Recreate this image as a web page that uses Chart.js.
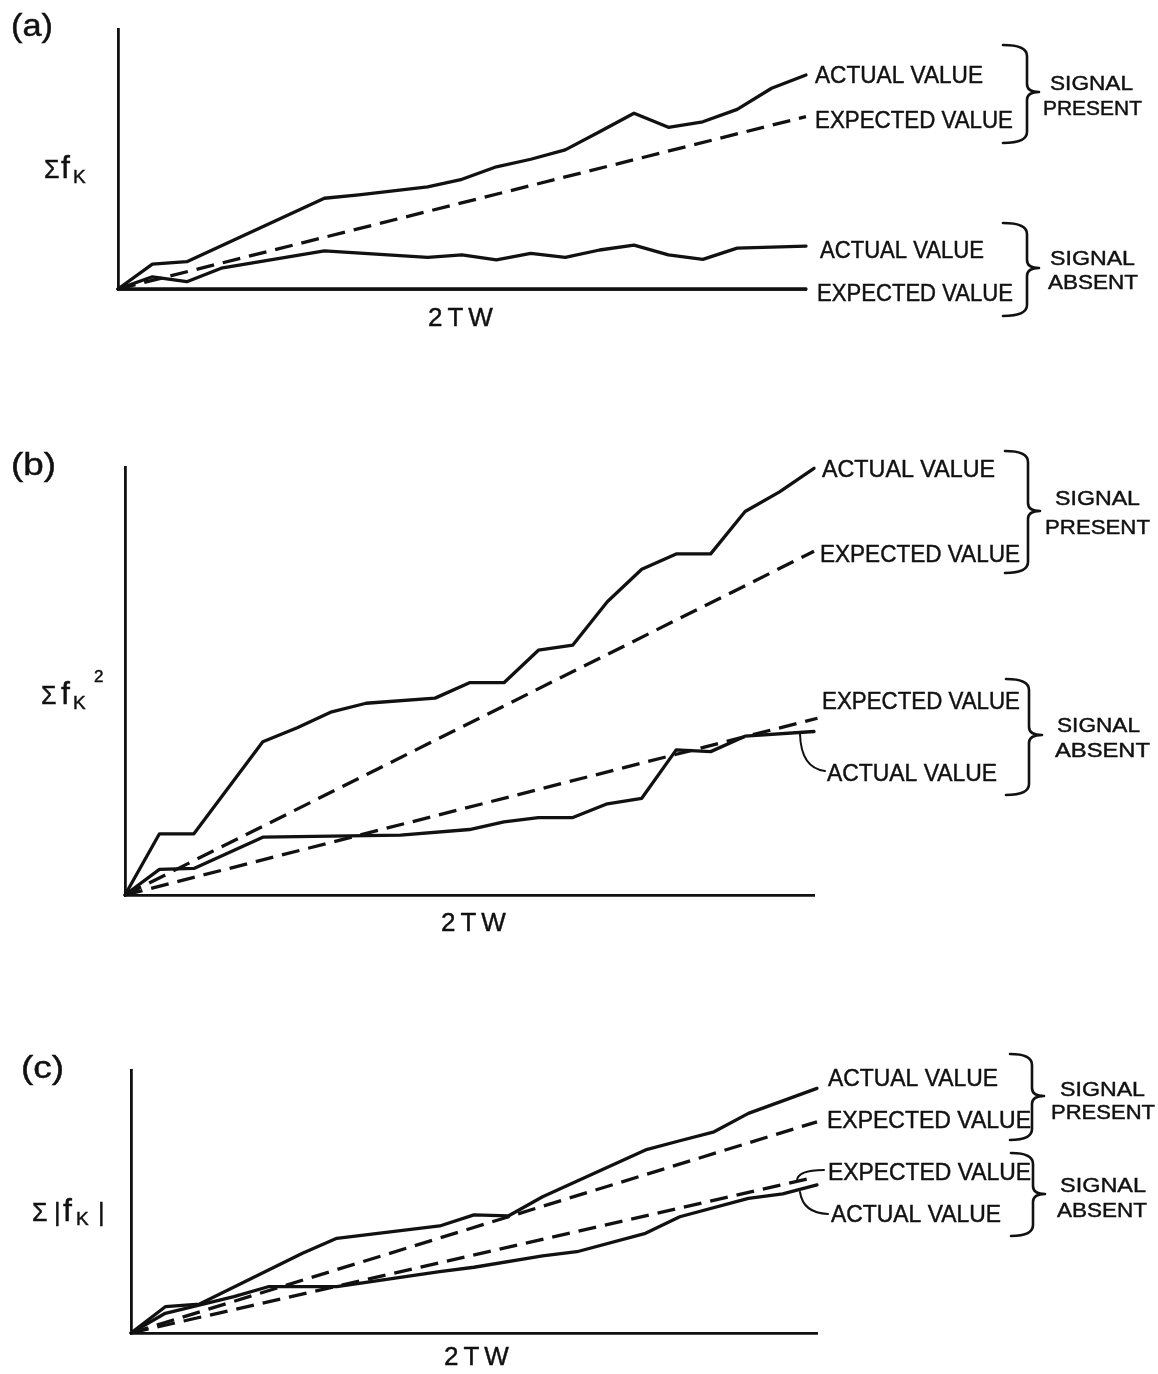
<!DOCTYPE html>
<html><head><meta charset="utf-8">
<script src="https://cdn.jsdelivr.net/npm/chart.js@4.4.1/dist/chart.umd.min.js"></script>
<style>
html,body{margin:0;padding:0;background:#fff;}
#wrap{position:relative;width:1158px;height:1374px;overflow:hidden;background:#fff;}
canvas{position:absolute;left:0;}
</style></head><body>
<div id="wrap">
<canvas id="ca" width="1158" height="345" style="top:0px;width:1158px;height:345px"></canvas>
<canvas id="cb" width="1158" height="605" style="top:345px;width:1158px;height:605px"></canvas>
<canvas id="cc" width="1158" height="424" style="top:950px;width:1158px;height:424px"></canvas>
</div>
<script>
// ---------- DATA (x = sample index along 2TW, y = relative sum, 0..100) ----------
// Panel (a)  Σ f_K
const aPresentActualX   = [0, 1, 2, 6, 7, 9, 10, 11, 12, 13, 14, 15, 16, 17, 18, 19, 20];
const aPresentActualY   = [0, 9.6, 10.5, 34.9, 36.2, 39.3, 42.2, 47.0, 49.9, 53.5, 60.5, 67.6, 62.2, 64.3, 69.1, 77.2, 82.3];
const aPresentExpectedX = [0, 20];
const aPresentExpectedY = [0, 66.3];
const aAbsentActualX    = [0, 1, 2, 3, 6, 9, 10, 11, 12, 13, 14, 15, 16, 17, 18, 20];
const aAbsentActualY    = [0, 4.7, 2.8, 8.0, 14.7, 12.2, 13.1, 11.2, 13.7, 12.2, 15.0, 16.9, 13.1, 11.4, 15.7, 16.5];
const aAbsentExpectedX  = [0, 20];
const aAbsentExpectedY  = [0, 0];

// Panel (b)  Σ f_K²
const bPresentActualX   = [0, 1, 2, 4, 5, 6, 7, 9, 10, 11, 12, 13, 14, 15, 16, 17, 18, 19, 20];
const bPresentActualY   = [0, 14.3, 14.3, 35.8, 39.1, 42.8, 44.8, 46.0, 49.6, 49.6, 57.2, 58.4, 68.5, 76.1, 79.7, 79.7, 89.6, 94.2, 99.7];
const bPresentExpectedX = [0, 20];
const bPresentExpectedY = [0, 80.3];
const bAbsentExpectedX  = [0, 20.1];
const bAbsentExpectedY  = [0, 41.3];
const bAbsentActualX    = [0, 1, 2, 4, 8, 10, 11, 12, 13, 14, 15, 16, 17, 18, 20];
const bAbsentActualY    = [0, 6.0, 6.2, 13.5, 14.0, 15.3, 17.1, 18.1, 18.1, 21.3, 22.6, 33.9, 33.5, 37.1, 38.2];

// Panel (c)  Σ |f_K|
const cPresentActualX   = [0, 1, 2, 5, 6, 9, 10, 11, 12, 15, 16, 17, 18, 20];
const cPresentActualY   = [0, 10.0, 11.0, 30.3, 36.0, 40.7, 44.9, 44.5, 51.8, 69.6, 73.1, 76.5, 83.5, 93.0];
const cPresentExpectedX = [0, 20];
const cPresentExpectedY = [0, 80.3];
const cAbsentExpectedX  = [0, 19.8];
const cAbsentExpectedY  = [0, 58.8];
const cAbsentActualX    = [0, 1, 3, 4, 6, 9, 10, 12, 13, 15, 16, 18, 19, 20];
const cAbsentActualY    = [0, 7.5, 13.8, 17.6, 17.6, 23.3, 25.0, 29.3, 30.9, 37.9, 44.2, 51.2, 52.9, 56.3];

const X_MAX = 20, Y_MAX = 100;

// ---------- helpers ----------
const INK = '#111';
const FONT = '"Liberation Sans", Arial, "DejaVu Sans", sans-serif';
function pts(xs, ys){ return xs.map((x,i)=>({x:x, y:ys[i]})); }
function series(xs, ys, dashed){
  return { data: pts(xs, ys), showLine: true, pointRadius: 0, borderColor: INK,
    borderWidth: 3.3, borderDash: dashed ? [18, 9] : [], borderJoinStyle: 'round',
    borderCapStyle: dashed ? 'butt' : 'round', tension: 0, fill: false, clip: false };
}
function fitText(ctx, s, x, base, size, w, spacing){
  ctx.save();
  ctx.font = size + 'px ' + FONT;
  ctx.letterSpacing = (spacing || 0) + 'px';
  ctx.textAlign = 'left'; ctx.textBaseline = 'alphabetic';
  let nat = ctx.measureText(s).width - (spacing || 0);
  const sc = w ? w / nat : 1;
  ctx.translate(x, base); ctx.scale(sc, 1);
  ctx.fillStyle = INK; ctx.strokeStyle = INK; ctx.lineWidth = 0.45;
  ctx.fillText(s, 0, 0); ctx.strokeText(s, 0, 0);
  ctx.restore();
}
function runs(ctx, list){
  for (const r of list) fitText(ctx, r.t, r.x, r.b, r.s, r.w);
}
function brace(ctx, b){
  const r = 11;
  ctx.save(); ctx.strokeStyle = INK; ctx.lineWidth = 2.6; ctx.lineCap = 'round'; ctx.lineJoin='round';
  ctx.beginPath();
  ctx.moveTo(b.x0, b.top);
  ctx.quadraticCurveTo(b.xm, b.top, b.xm, b.top + r);
  ctx.lineTo(b.xm, b.tip - 8);
  ctx.quadraticCurveTo(b.xm, b.tip, b.xt, b.tip);
  ctx.quadraticCurveTo(b.xm, b.tip, b.xm, b.tip + 8);
  ctx.lineTo(b.xm, b.bot - r);
  ctx.quadraticCurveTo(b.xm, b.bot, b.x0, b.bot);
  ctx.stroke(); ctx.restore();
}
function leader(ctx, l){
  ctx.save(); ctx.strokeStyle = INK; ctx.lineWidth = 2; ctx.lineCap='round';
  ctx.beginPath(); ctx.moveTo(l[0], l[1]); ctx.quadraticCurveTo(l[2], l[3], l[4], l[5]); ctx.stroke();
  ctx.restore();
}

function makePanel(id, top, height, area, datasets, notes){
  const ctx = document.getElementById(id).getContext('2d');
  const annot = {
    id: 'annot',
    afterDraw(chart){
      const c = chart.ctx;
      c.save(); c.translate(0, -top);
      (notes.texts || []).forEach(t => fitText(c, t[0], t[1], t[2], t[3], t[4], t[5]));
      (notes.runs || []).forEach(r => runs(c, r));
      (notes.braces || []).forEach(b => brace(c, b));
      (notes.leaders || []).forEach(l => leader(c, l));
      c.restore();
    }
  };
  const axis = (isX) => ({
    type: 'linear', min: 0, max: isX ? X_MAX : Y_MAX,
    grid: { display: false, drawTicks: false },
    ticks: { display: false },
    border: { display: true, color: INK, width: 2.8 },
    afterFit(s){ if (isX) s.height = 0; else s.width = 0; }
  });
  return new Chart(ctx, {
    type: 'scatter',
    data: { datasets: datasets },
    options: {
      responsive: false, animation: false, events: [],
      layout: { padding: { left: area.left, right: 1158 - area.right, top: area.top - top, bottom: top + height - area.bottom } },
      plugins: { legend: { display: false }, tooltip: { enabled: false } },
      scales: { x: axis(true), y: axis(false) }
    },
    plugins: [annot]
  });
}

// ---------- Panel (a) ----------
makePanel('ca', 0, 345, { left: 118, right: 806, top: 29, bottom: 289 }, [
  series(aPresentActualX, aPresentActualY, false),
  series(aPresentExpectedX, aPresentExpectedY, true),
  series(aAbsentActualX, aAbsentActualY, false),
  series(aAbsentExpectedX, aAbsentExpectedY, false)
], {
  texts: [
    ['(a)', 11, 35.5, 31, 42],
    ['ACTUAL VALUE', 815, 83.2, 23, 168],
    ['EXPECTED VALUE', 815, 128.2, 23, 198],
    ['ACTUAL VALUE', 820, 258.2, 23, 164],
    ['EXPECTED VALUE', 817, 301.2, 23, 196],
    ['SIGNAL', 1050, 90, 21, 83],
    ['PRESENT', 1043, 114.5, 21, 99],
    ['SIGNAL', 1050, 265, 21, 85],
    ['ABSENT', 1048, 289, 21, 90],
    ['2TW', 428, 325.5, 26, 0, 5]
  ],
  runs: [[
    { t: 'Σ', x: 44, b: 178, s: 25, w: 0 },
    { t: 'f', x: 61, b: 178, s: 32, w: 0 },
    { t: 'K', x: 73, b: 183, s: 19, w: 0 }
  ]],
  braces: [
    { x0: 1003, xm: 1027, xt: 1039, top: 45, tip: 92, bot: 143 },
    { x0: 1003, xm: 1027, xt: 1039, top: 223, tip: 268, bot: 316 }
  ]
});

// ---------- Panel (b) ----------
makePanel('cb', 345, 605, { left: 125, right: 814, top: 467, bottom: 895 }, [
  series(bPresentActualX, bPresentActualY, false),
  series(bPresentExpectedX, bPresentExpectedY, true),
  series(bAbsentExpectedX, bAbsentExpectedY, true),
  series(bAbsentActualX, bAbsentActualY, false)
], {
  texts: [
    ['(b)', 11, 475, 31, 45],
    ['ACTUAL VALUE', 822, 477, 23, 173],
    ['EXPECTED VALUE', 820, 562.2, 23, 200],
    ['EXPECTED VALUE', 822, 708.7, 23, 198],
    ['ACTUAL VALUE', 827, 781.2, 23, 170],
    ['SIGNAL', 1055, 505, 21, 85],
    ['PRESENT', 1045, 534, 21, 105],
    ['SIGNAL', 1057, 731.5, 21, 83],
    ['ABSENT', 1055, 756.5, 21, 95],
    ['2TW', 441, 930.5, 26, 0, 5]
  ],
  runs: [[
    { t: 'Σ', x: 41, b: 704, s: 25, w: 0 },
    { t: 'f', x: 61, b: 704, s: 32, w: 0 },
    { t: 'K', x: 73, b: 709, s: 19, w: 0 },
    { t: '2', x: 94, b: 682, s: 17, w: 0 }
  ]],
  braces: [
    { x0: 1005, xm: 1028, xt: 1040, top: 451, tip: 511, bot: 573 },
    { x0: 1006, xm: 1029, xt: 1042, top: 679, tip: 735, bot: 795 }
  ],
  leaders: [[800, 734, 801, 768, 825, 771]]
});

// ---------- Panel (c) ----------
makePanel('cc', 950, 424, { left: 131, right: 817, top: 1070, bottom: 1333 }, [
  series(cPresentActualX, cPresentActualY, false),
  series(cPresentExpectedX, cPresentExpectedY, true),
  series(cAbsentExpectedX, cAbsentExpectedY, true),
  series(cAbsentActualX, cAbsentActualY, false)
], {
  texts: [
    ['(c)', 21, 1078, 31, 43],
    ['ACTUAL VALUE', 828, 1086.2, 23, 170],
    ['EXPECTED VALUE', 827, 1128.2, 23, 204],
    ['EXPECTED VALUE', 828, 1180.2, 23, 203],
    ['ACTUAL VALUE', 831, 1222.2, 23, 170],
    ['SIGNAL', 1060, 1095.5, 21, 85],
    ['PRESENT', 1051, 1118.5, 21, 104],
    ['SIGNAL', 1060, 1191.5, 21, 86],
    ['ABSENT', 1057, 1216.5, 21, 90],
    ['2TW', 444, 1365, 26, 0, 5]
  ],
  runs: [[
    { t: 'Σ', x: 32, b: 1221, s: 25, w: 0 },
    { t: '|', x: 54, b: 1221, s: 25, w: 0 },
    { t: 'f', x: 63, b: 1221, s: 32, w: 0 },
    { t: 'K', x: 76, b: 1225, s: 19, w: 0 },
    { t: '|', x: 98, b: 1221, s: 25, w: 0 }
  ]],
  braces: [
    { x0: 1010, xm: 1032, xt: 1044, top: 1054, tip: 1096, bot: 1140 },
    { x0: 1011, xm: 1033, xt: 1045, top: 1153, tip: 1194, bot: 1236 }
  ],
  leaders: [[797, 1181, 797, 1170, 824, 1170], [800, 1192, 803, 1213, 828, 1214]]
});
</script>
</body></html>
